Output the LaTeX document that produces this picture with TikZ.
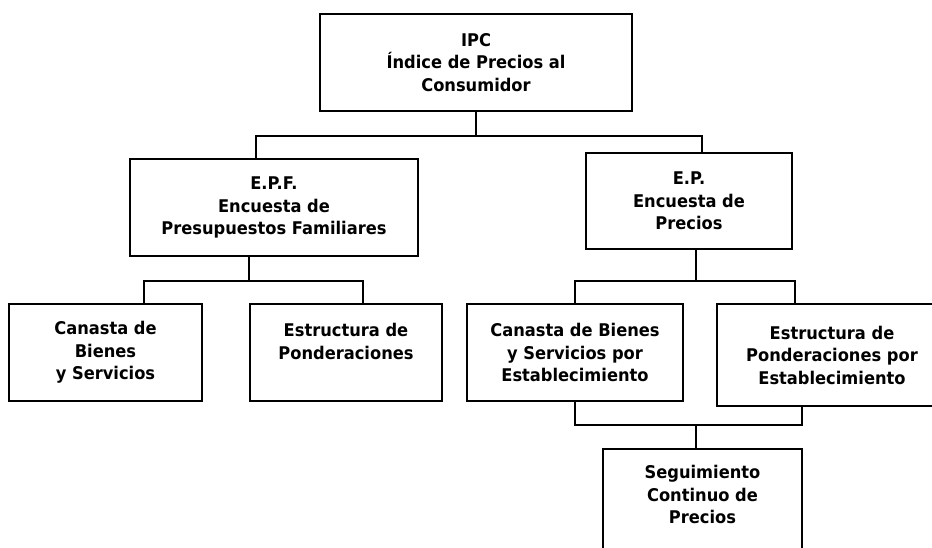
\documentclass[tikz,border=0pt]{standalone}
\usepackage{fontspec}
\setmainfont{DejaVu Sans}[FakeStretch=0.93]

\begin{document}
\begin{tikzpicture}[x=1pt, y=1pt,
    box/.style={draw, line width=1.9pt, align=center, inner sep=0pt, minimum height=97pt,
      font=\bfseries\fontsize{17.5}{22.5}\selectfont},
    link/.style={line width=1.7pt}]
  \clip (0,0) rectangle (932,-547);

  % Top node
  \node[box, minimum width=312pt] (ipc) at (476,-62.5) {IPC\\Índice de Precios al\\Consumidor};

  % Surveys
  \node[box, minimum width=288pt] (epf) at (274,-207.5) {E.P.F.\\Encuesta de\\Presupuestos Familiares};
  \node[box, minimum width=206pt, minimum height=96pt] (ep) at (689,-201) {E.P.\\Encuesta de\\Precios};

  % What each survey gives
  \node[box, minimum width=193pt] (canasta) at (105.5,-352.5) {Canasta de\\Bienes\\y Servicios};
  \node[box, minimum width=192pt] (pond) at (346,-352.5) {Estructura de\\Ponderaciones\\\mbox{}};
  \node[box, minimum width=216pt] (canastaEst) at (575,-352.5) {Canasta de Bienes\\y Servicios por\\Establecimiento};
  \node[box, minimum width=230pt, minimum height=102pt] (pondEst) at (832,-355) {Estructura de\\Ponderaciones por\\Establecimiento};

  % Price follow-up
  \node[box, minimum width=199pt, minimum height=114pt] (seg) at (702.5,-506) {Seguimiento\\Continuo de\\Precios\\\mbox{}};

  % Connect nodes
  \draw[link] (ipc.south) -- ++(0,-24) coordinate (busTop);
  \draw[link] ([xshift=-18pt]epf.north) |- (busTop) -| ([xshift=13pt]ep.north);

  \draw[link] ([xshift=-25pt]epf.south) -- ++(0,-24) coordinate (busEpf);
  \draw[link] ([xshift=38.5pt]canasta.north) |- (busEpf) -| ([xshift=17pt]pond.north);

  \draw[link] ([xshift=7pt]ep.south) -- ++(0,-31) coordinate (busEp);
  \draw[link] (canastaEst.north) |- (busEp) -| ([xshift=-37pt]pondEst.north);

  \draw[link] (canastaEst.south) -- ++(0,-23) coordinate (busSeg) -| ([xshift=-30pt]pondEst.south);
  \coordinate (segIn) at ([xshift=-6.5pt]seg.north);
  \draw[link] (segIn) -- (segIn |- busSeg);
\end{tikzpicture}
\end{document}
